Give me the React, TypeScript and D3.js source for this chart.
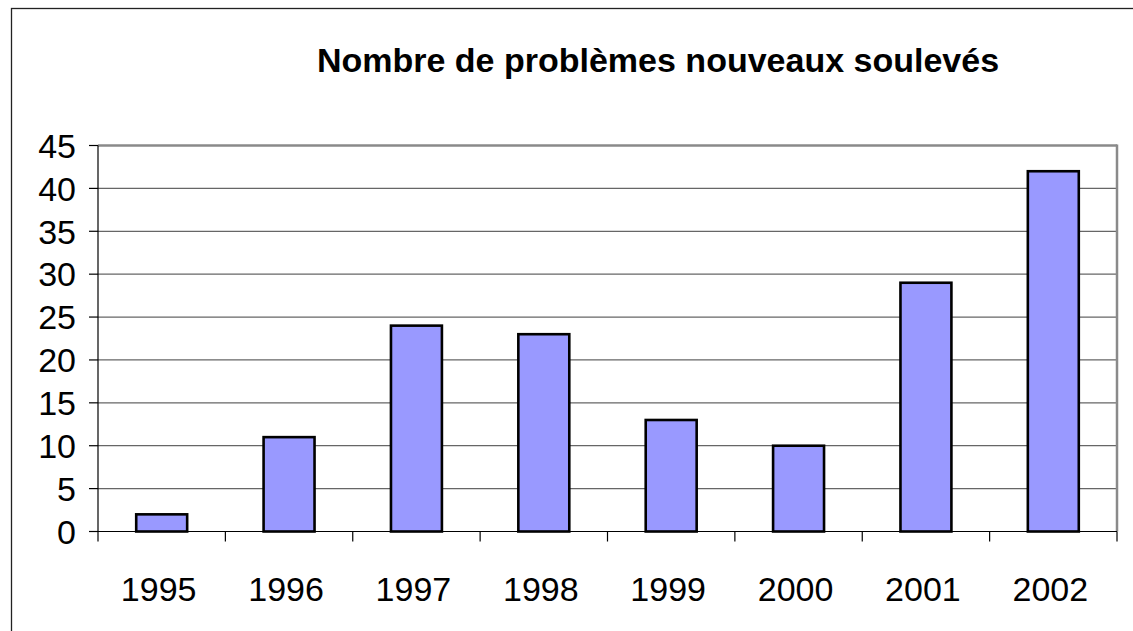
import React from "react";
import * as d3 from "d3";

const title = "Nombre de problèmes nouveaux soulevés";
const years = ["1995", "1996", "1997", "1998", "1999", "2000", "2001", "2002"];
const values = [2, 11, 24, 23, 13, 10, 29, 42];
const yTicks = [0, 5, 10, 15, 20, 25, 30, 35, 40, 45];

export default function App() {
  const W = 1133, H = 631;
  const left = 98, right = 1117, top = 145.5, bottom = 531.5;
  const x = d3.scaleBand<string>().domain(years).range([left, right]).paddingInner(0.6).paddingOuter(0.3);
  const xc = d3.scaleBand<string>().domain(years).range([left, right]);
  const y = d3.scaleLinear().domain([0, 45]).range([bottom, top]);
  const font = "'Liberation Sans', Arial, sans-serif";
  return (
    <svg width={W} height={H} style={{ position: "absolute", left: 0, top: 0, background: "#fff" }}>
      <rect x={11.5} y={8.5} width={W} height={H} fill="#fff" stroke="#222" strokeWidth={1.3} />
      <text x={658} y={72} textAnchor="middle" fontFamily={font} fontWeight="bold" fontSize={34}>{title}</text>
      {yTicks.filter(t => t > 0 && t < 45).map(t => (
        <line key={"g" + t} x1={left} x2={right} y1={y(t)} y2={y(t)} stroke="#666" strokeWidth={1.2} />
      ))}
      <line x1={left} x2={right} y1={top} y2={top} stroke="#8a8a8a" strokeWidth={2.5} />
      <line x1={right} x2={right} y1={top - 1} y2={bottom} stroke="#8a8a8a" strokeWidth={2.5} />
      {years.map((yr, i) => (
        <rect key={yr} x={x(yr)} y={y(values[i])} width={x.bandwidth()} height={y(0) - y(values[i])}
          fill="#9999FF" stroke="#000" strokeWidth={2.6} />
      ))}
      <line x1={left} x2={left} y1={top} y2={bottom} stroke="#000" strokeWidth={1.2} />
      <line x1={left} x2={right} y1={bottom} y2={bottom} stroke="#000" strokeWidth={1.2} />
      {yTicks.map(t => (
        <g key={"y" + t}>
          <line x1={89} x2={left} y1={y(t)} y2={y(t)} stroke="#000" strokeWidth={1.2} />
          <text x={76} y={y(t)} dy="0.36em" textAnchor="end" fontFamily={font} fontSize={34}>{t}</text>
        </g>
      ))}
      {years.map((yr, i) => (
        <line key={"xt" + yr} x1={xc(yr)} x2={xc(yr)} y1={bottom} y2={bottom + 10} stroke="#000" strokeWidth={1.2} />
      ))}
      <line x1={right} x2={right} y1={bottom} y2={bottom + 10} stroke="#000" strokeWidth={1.2} />
      {years.map(yr => (
        <text key={"xl" + yr} x={xc(yr)! + xc.bandwidth() / 2 - 3} y={601} textAnchor="middle" fontFamily={font} fontSize={34}>{yr}</text>
      ))}
    </svg>
  );
}
